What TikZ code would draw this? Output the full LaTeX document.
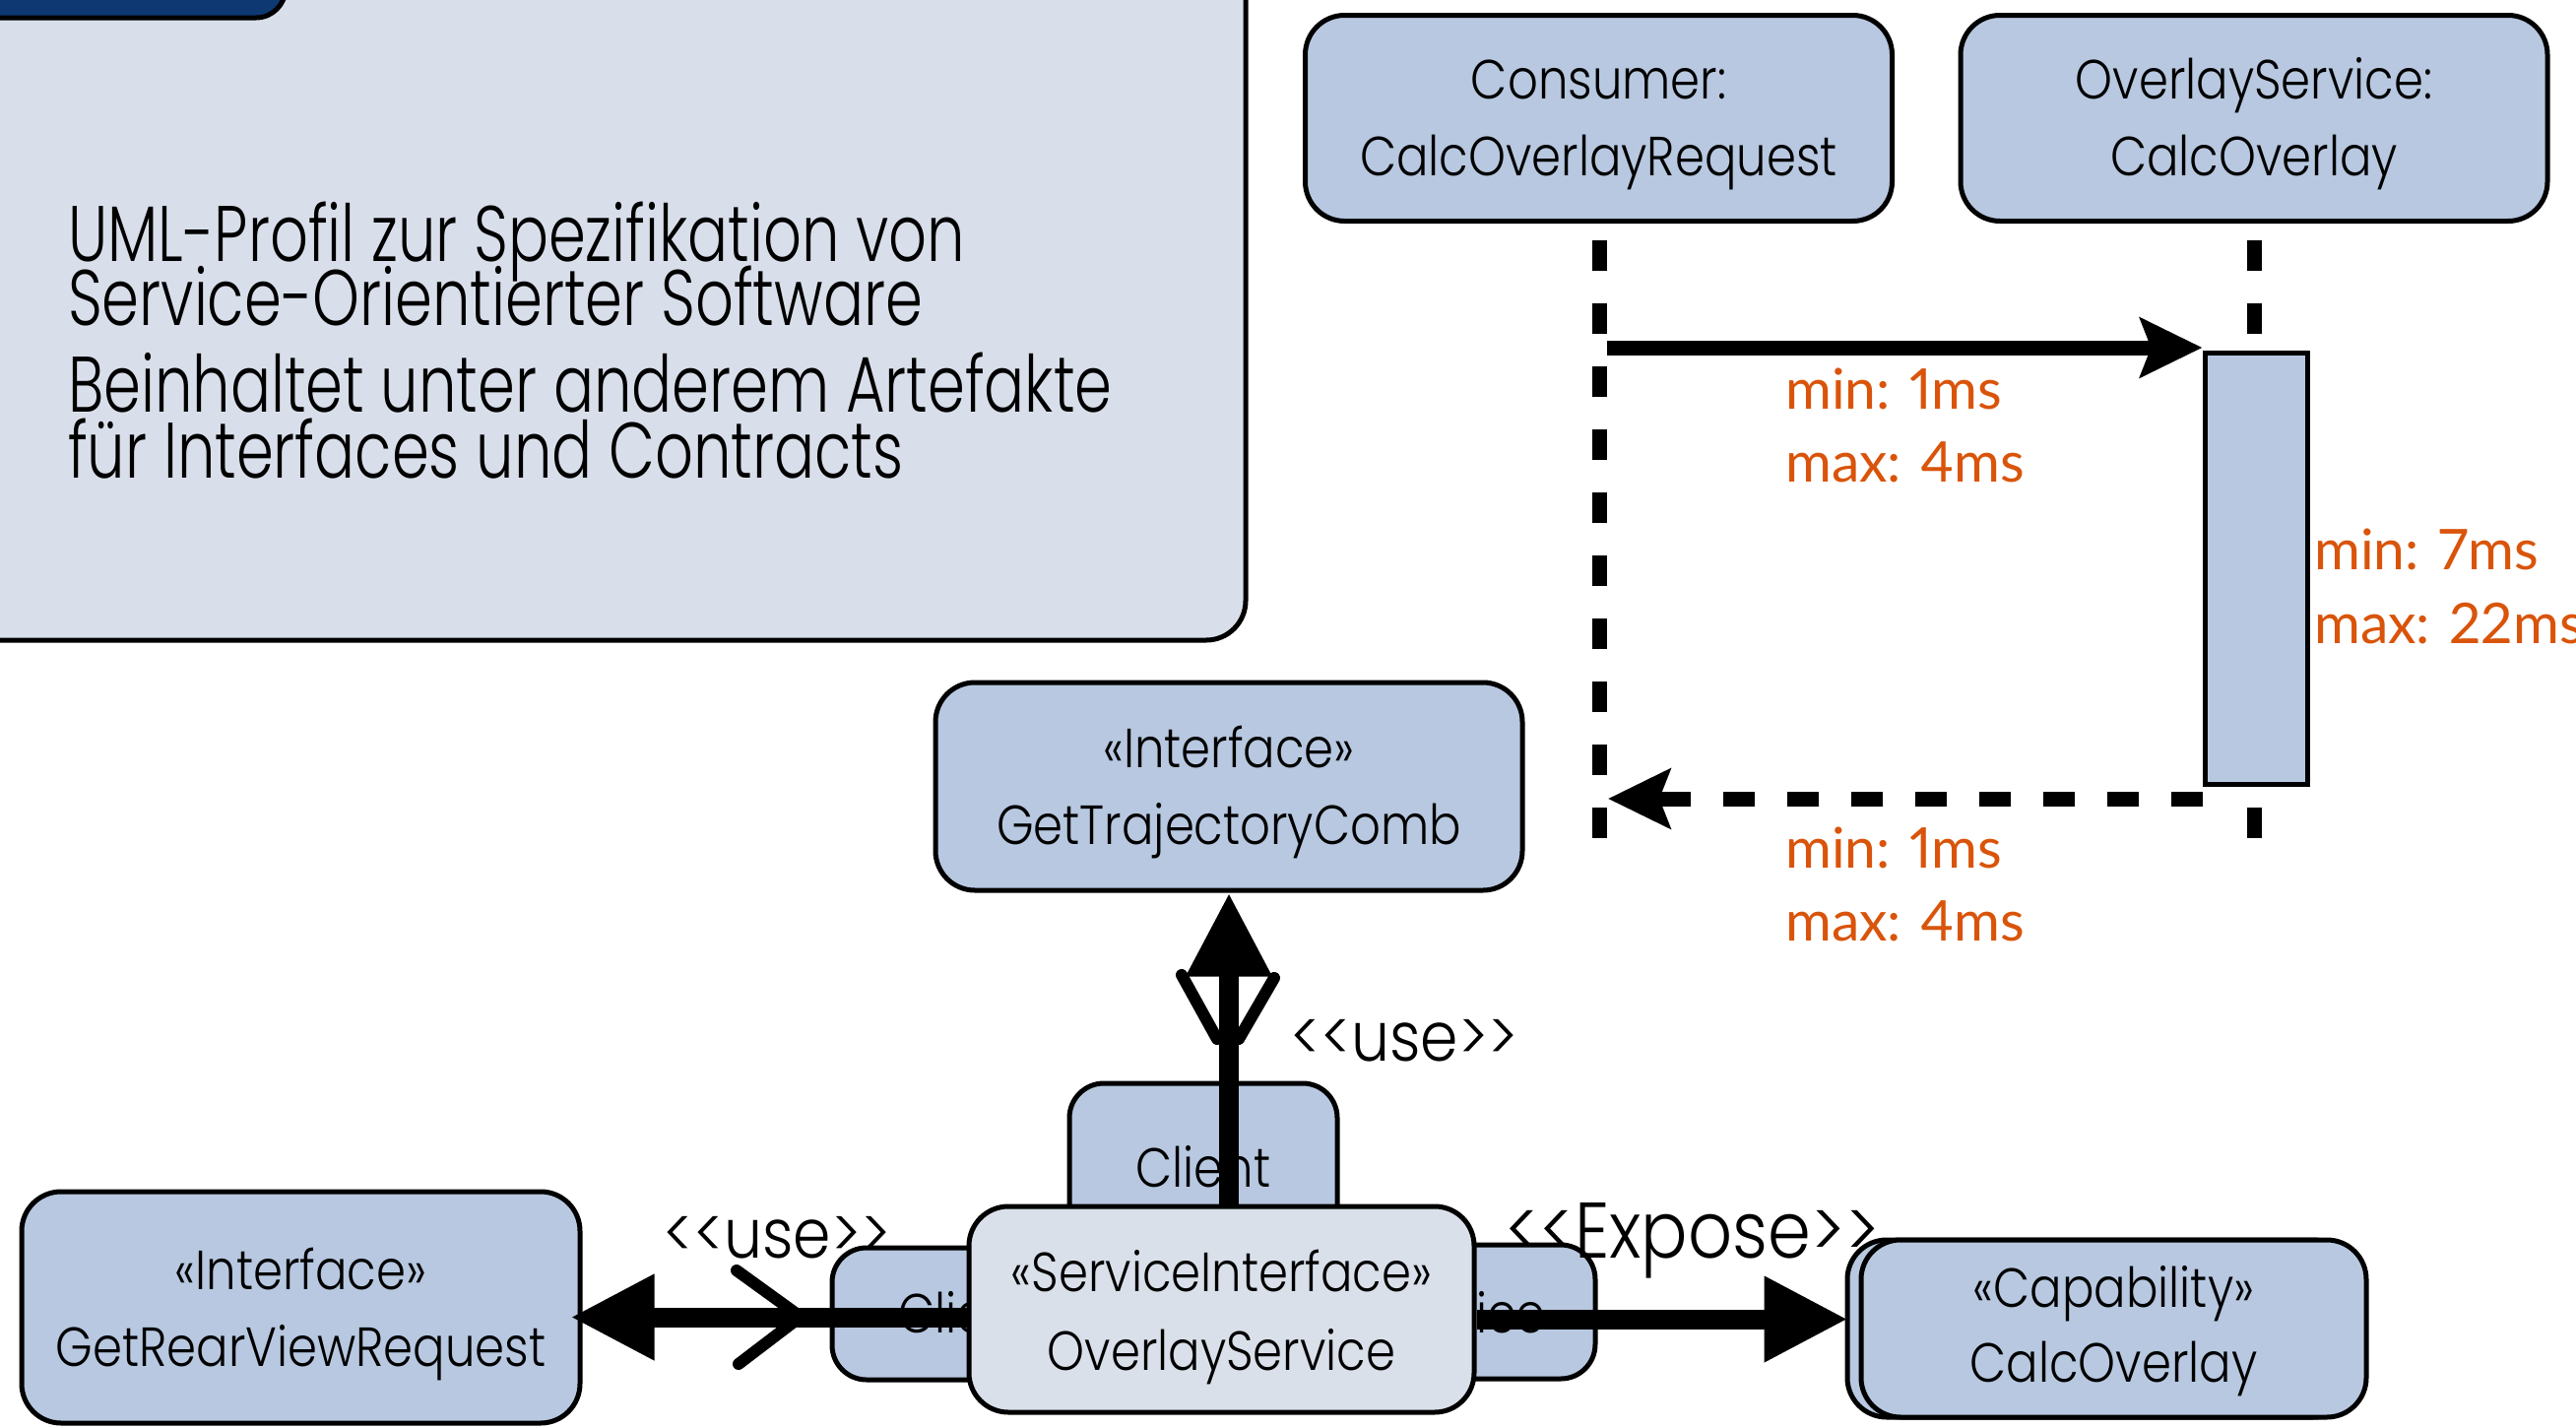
\documentclass[tikz,border=0pt]{standalone}
\usepackage{fontspec}
\usetikzlibrary{arrows.meta}
\setmainfont{Poppins Light}
\newfontfamily\futc{Poppins Light}[FakeStretch=0.76]
\newfontfamily\futb{Poppins Light}[FakeStretch=0.86]
\newfontfamily\futl{Poppins Light}[FakeStretch=0.88]
\newfontfamily\gill{Lato}[Numbers=Proportional]
\definecolor{panel}{HTML}{D9DFEA}
\definecolor{boxfill}{HTML}{B7C8E0}
\definecolor{svcfill}{HTML}{D9E0EA}
\definecolor{tabblue}{HTML}{0E3872}
\definecolor{timing}{HTML}{D9540A}
\pgfdeclarelayer{fg}
\pgfsetlayers{main,fg}
\begin{document}
\begin{tikzpicture}[x=1pt,y=-1pt,
  ubox/.style={draw=black,line width=5pt,fill=boxfill,rounded corners=40pt,inner sep=0pt},
  btxt/.style={font=\futb\fontsize{56}{60}\selectfont,anchor=base,inner sep=0pt},
  ptxt/.style={font=\futc\fontsize{80}{66}\selectfont,anchor=base west,inner sep=0pt},
  otxt/.style={font=\gill\fontsize{57}{60}\selectfont,text=timing,anchor=base west,inner sep=0pt},
  ltxt/.style={font=\futl\fontsize{70}{74}\selectfont,anchor=base west,inner sep=0pt},
  lifeline/.style={line width=15pt,dash pattern=on 31pt off 33pt},
  msg/.style={line width=15pt,-{Stealth[length=63pt,width=60pt,inset=11pt]}},
  ret/.style={msg,dash pattern=on 32pt off 33pt},
  carrow/.style={line width=20pt,-{Triangle[length=85pt,width=82pt]}},
  barb/.style={line width=12pt,line cap=round,line join=round}
]
\useasboundingbox (0,0) rectangle (2616,1449);
\fill[white] (0,0) rectangle (2616,1449);

% description panel
\draw[fill=panel,line width=5pt,rounded corners=40pt] (-60,-60) rectangle (1265,650);
\draw[fill=tabblue,line width=5pt,rounded corners=30pt] (-60,-60) rectangle (290,18);
\node[ptxt] (p1) at (69,265) {UML-Profil zur Spezifikation von};
\node[ptxt] (p2) at (69,330) {Service-Orientierter Software};
\node[ptxt] (p3) at (69,418) {Beinhaltet unter anderem Artefakte};
\node[ptxt] (p4) at (69,485) {für Interfaces und Contracts};

% sequence diagram
\node[ubox,minimum width=596pt,minimum height=209pt] (consumer) at (1623.5,120) {};
\node[btxt] (consumerA) at (1623.5,100) {Consumer:};
\node[btxt] (consumerB) at (1623.5,178) {CalcOverlayRequest};
\node[ubox,minimum width=596pt,minimum height=209pt] (overlay) at (2289,120) {};
\node[btxt] (overlayA) at (2289,100) {OverlayService:};
\node[btxt] (overlayB) at (2289,178) {CalcOverlay};

\coordinate (cl1) at (1624,244);
\coordinate (cl2) at (1624,852);
\coordinate (ol1) at (2289,244);
\coordinate (ol2) at (2289,852);
\draw[lifeline] (cl1) -- (cl2);
\draw[lifeline] (ol1) -- (ol2);
\node[draw,line width=5pt,fill=boxfill,minimum width=104pt,minimum height=438pt,inner sep=0pt] (act) at (2291,577) {};

\coordinate (m1s) at (1632,353);
\draw[msg] (m1s) -- (m1s -| act.west);
\coordinate (m2e) at (1633,811);
\draw[ret] (act.west |- m2e) -- (m2e);

\node[otxt] (t1) at (1813,415) {min: 1ms};
\node[otxt] (t2) at (1813,489) {max: 4ms};
\node[otxt] (t3) at (2350,578) {min: 7ms};
\node[otxt] (t4) at (2350,653) {max: 22ms};
\node[otxt] (t5) at (1813,881) {min: 1ms};
\node[otxt] (t6) at (1813,955) {max: 4ms};

% component diagram
\node[ubox,minimum width=596pt,minimum height=211pt] (traj) at (1248,798.5) {};
\node[btxt] (trajA) at (1248,779) {«Interface»};
\node[btxt] (trajB) at (1248,857) {GetTrajectoryComb};

\node[ubox,rounded corners=35pt,minimum width=272pt,minimum height=200pt] (clientT) at (1222,1200) {};
\node[btxt] (clientTt) at (1222,1205) {Client};
\node[ubox,rounded corners=35pt,minimum width=272pt,minimum height=134pt] (clientL) at (981,1334) {};
\node[btxt] (clientLt) at (981,1353) {Client};
\node[ubox,rounded corners=35pt,minimum width=272pt,minimum height=136pt] (servR) at (1484,1332) {};
\node[btxt] (servRt) at (1484,1353) {Service};

\node[ubox,minimum width=567pt,minimum height=235pt] (rear) at (305.5,1327.5) {};
\node[btxt] (rearA) at (305.5,1309) {«Interface»};
\node[btxt] (rearB) at (305.5,1387) {GetRearViewRequest};

\node[ubox,minimum width=513pt,minimum height=180pt] (capB) at (2132.5,1349) {};
\node[ubox,minimum width=513pt,minimum height=180pt] (cap) at (2146.5,1349) {};
\node[btxt] (capA) at (2146.5,1327) {«Capability»};
\node[btxt] (capN) at (2146.5,1403) {CalcOverlay};

\begin{pgfonlayer}{fg}
\node[ubox,fill=svcfill,minimum width=513pt,minimum height=209pt] (svc) at (1240.5,1329.5) {};
\node[btxt] (svcA) at (1240.5,1311) {«ServiceInterface»};
\node[btxt] (svcB) at (1240.5,1391) {OverlayService};
\end{pgfonlayer}

\draw[carrow] (traj.south |- svc.north) -- (traj.south);
\draw[carrow,shorten >=-12pt] ([yshift=-8pt]svc.west) -- ([yshift=-8pt]svc.west -| rear.east);
\draw[carrow,shorten >=11pt] ([yshift=-10pt]svc.east) -- ([yshift=-10pt]svc.east -| cap.west);

\draw[barb] (748,1290) -- (813,1337) -- (750,1385);
\draw[barb] (1200,990) -- (1236,1055);
\draw[barb] (1294,993) -- (1258,1055);

\node[ltxt] (use1) at (1310,1077) {<\kern0pt<use>\kern0pt>};
\node[ltxt] (use2) at (673,1277) {<\kern0pt<use>\kern0pt>};
\node[ltxt,font=\futl\fontsize{80}{84}\selectfont] (expose) at (1528,1277) {<\kern0pt<Expose>\kern0pt>};
\end{tikzpicture}
\end{document}
